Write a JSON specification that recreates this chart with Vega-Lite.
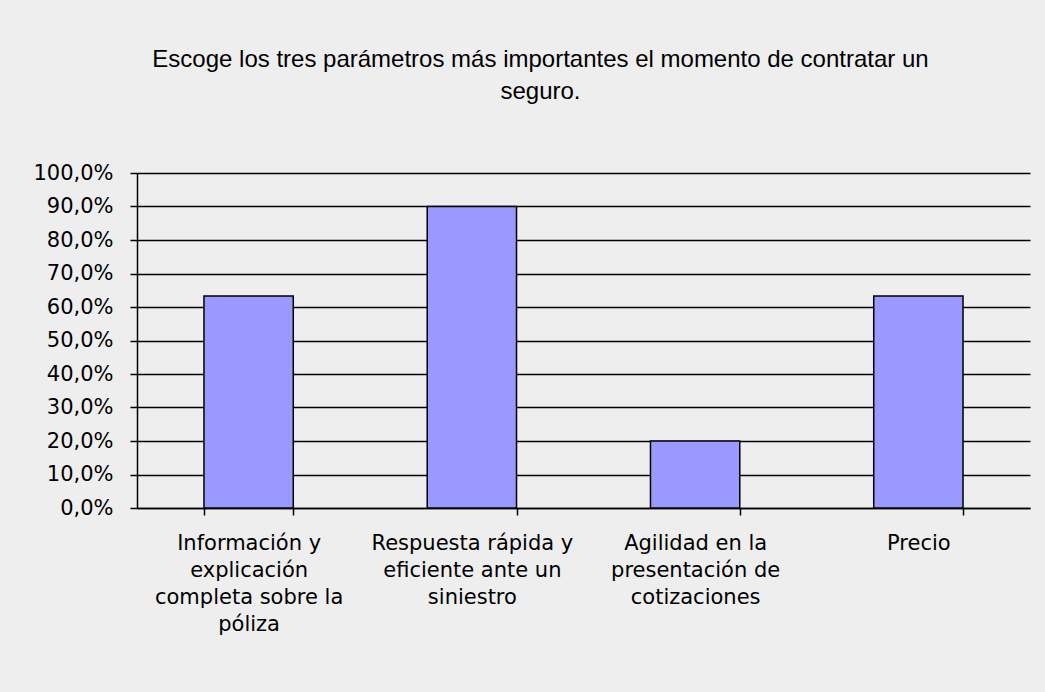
{
  "$schema": "https://vega.github.io/schema/vega-lite/v6.json",
  "width": 893,
  "height": 335,
  "autosize": {"type": "none"},
  "padding": {"left": 137, "top": 173, "right": 15, "bottom": 184},
  "background": "#EEEEEE",
  "config": {
    "view": {"stroke": null},
    "font": "Liberation Sans"
  },
  "title": {
    "text": ["Escoge los tres parámetros más importantes el momento de contratar un", "seguro."],
    "font": "Liberation Sans",
    "fontSize": 24,
    "fontWeight": "normal",
    "color": "#000000",
    "anchor": "middle",
    "dx": -43,
    "offset": 58,
    "lineHeight": 32
  },
  "data": {
    "values": [
      {"parametro": "Información y explicación completa sobre la póliza", "porcentaje": 0.633},
      {"parametro": "Respuesta rápida y eficiente ante un siniestro", "porcentaje": 0.9},
      {"parametro": "Agilidad en la presentación de cotizaciones", "porcentaje": 0.2},
      {"parametro": "Precio", "porcentaje": 0.633}
    ]
  },
  "mark": {"type": "bar", "color": "#9999FF", "stroke": "#000000", "strokeWidth": 1.5},
  "encoding": {
    "x": {
      "field": "parametro",
      "type": "nominal",
      "sort": null,
      "scale": {"paddingInner": 0.6, "paddingOuter": 0.3},
      "axis": {
        "title": null,
        "labelAngle": 0,
        "tickBand": "extent",
        "tickSize": 7,
        "tickColor": "#000000",
        "tickWidth": 1.5,
        "domainColor": "#000000",
        "domainWidth": 1.5,
        "labelFont": "DejaVu Sans",
        "labelFontSize": 21,
        "labelColor": "#000000",
        "labelPadding": 17,
        "labelLineHeight": 27,
        "labelBaseline": "top",
        "labelLimit": 300,
        "labelExpr": "datum.value == 'Información y explicación completa sobre la póliza' ? ['Información y', 'explicación', 'completa sobre la', 'póliza'] : datum.value == 'Respuesta rápida y eficiente ante un siniestro' ? ['Respuesta rápida y', 'eficiente ante un', 'siniestro'] : datum.value == 'Agilidad en la presentación de cotizaciones' ? ['Agilidad en la', 'presentación de', 'cotizaciones'] : datum.value"
      }
    },
    "y": {
      "field": "porcentaje",
      "type": "quantitative",
      "scale": {"domain": [0, 1], "nice": false},
      "axis": {
        "title": null,
        "values": [0, 0.1, 0.2, 0.3, 0.4, 0.5, 0.6, 0.7, 0.8, 0.9, 1.0],
        "labelExpr": "replace(format(datum.value * 100, '.1f'), '.', ',') + '%'",
        "grid": true,
        "gridColor": "#000000",
        "gridWidth": 1.5,
        "gridOpacity": 1,
        "tickSize": 7,
        "tickColor": "#000000",
        "tickWidth": 1.5,
        "domainColor": "#000000",
        "domainWidth": 1.5,
        "labelFont": "DejaVu Sans",
        "labelFontSize": 21,
        "labelColor": "#000000",
        "labelPadding": 17
      }
    }
  }
}
